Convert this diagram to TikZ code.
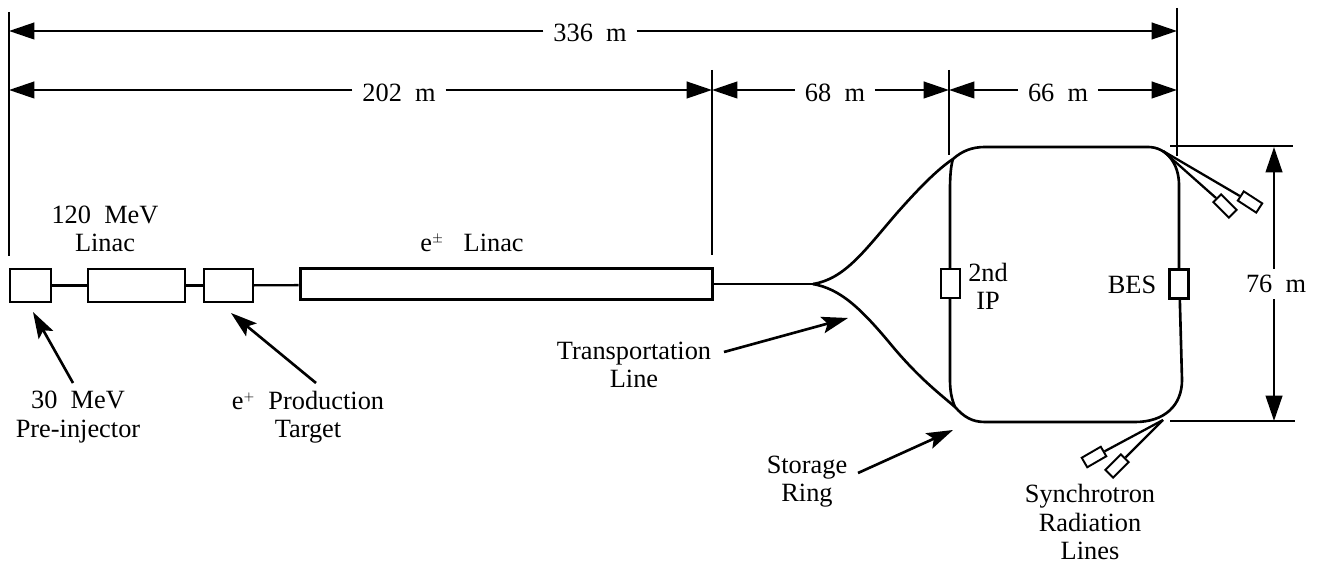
\documentclass[tikz,border=0pt]{standalone}
\usepackage{fontspec}
\setmainfont{Liberation Serif}
\usetikzlibrary{arrows.meta}
\begin{document}
\begin{tikzpicture}[
  x=0.02cm,y=-0.02cm,line width=1.3pt,
  label/.style={font=\fontsize{15}{16}\selectfont,align=center,inner sep=0pt},
  span/.style={font=\fontsize{15}{16}\selectfont,fill=white,inner xsep=5pt,inner ysep=1pt},
  halfdim/.style={-{Triangle[length=14.5pt,width=9.5pt]}},
  pointer/.style={-{Stealth[length=15pt,width=9.5pt,inset=3pt]},line width=1.5pt},
  linac/.style={draw,minimum height=0.66cm,inner sep=0pt,fill=white},
  ring/.style={line width=1.5pt},
  ipbox/.style={draw,fill=white,line width=1.5pt,minimum width=0.38cm,minimum height=0.58cm,inner sep=0pt},
  srbox/.style={draw,fill=white,line width=1.1pt,minimum width=0.44cm,minimum height=0.22cm,inner sep=0pt}
]
  \useasboundingbox (0,0) rectangle (1317,563);

  % Extension lines
  \draw (9,12) -- (9,256);
  \draw (712,70) -- (712,255);
  \draw (949,70) -- (949,155);
  \draw (1177,8) -- (1177,156);
  \draw (1170,146) -- (1293,146);
  \draw (1170,421) -- (1295,421);

  % Spans
  \coordinate (a0) at (9,31);
  \coordinate (a1) at (1177,31);
  \node[span] (total) at (590,33) {336\ \ m};
  \draw[halfdim] (total.west |- a0) -- (a0);
  \draw[halfdim] (total.east |- a1) -- (a1);

  \coordinate (b0) at (9,90);
  \coordinate (b1) at (712,90);
  \coordinate (b2) at (949,90);
  \coordinate (b3) at (1177,90);
  \node[span] (linacspan) at (399,93) {202\ \ m};
  \node[span] (linespan) at (835,93) {68\ \ m};
  \node[span] (ringspan) at (1058,93) {66\ \ m};
  \draw[halfdim] (linacspan.west |- b0) -- (b0);
  \draw[halfdim] (linacspan.east |- b1) -- (b1);
  \draw[halfdim] (linespan.west |- b1) -- (b1);
  \draw[halfdim] (linespan.east |- b2) -- (b2);
  \draw[halfdim] (ringspan.west |- b2) -- (b2);
  \draw[halfdim] (ringspan.east |- b3) -- (b3);

  \coordinate (c0) at (1274,147);
  \coordinate (c1) at (1274,421);
  \node[span,inner xsep=1pt,inner ysep=3pt] (height) at (1276,284) {76\ \ m};
  \draw[halfdim] (height.north -| c0) -- (c0);
  \draw[halfdim] (height.south -| c0) -- (c1);

  % Linac row
  \node[linac,minimum width=0.82cm] (inj) at (30.5,285.5) {};
  \node[linac,minimum width=1.94cm] (lin) at (136.5,285.5) {};
  \node[linac,minimum width=0.98cm] (tgt) at (228.5,285.5) {};
  \node[linac,line width=1.7pt,minimum width=8.26cm,minimum height=0.62cm] (main) at (506.5,284) {};
  \draw (inj) -- (lin);
  \draw (lin) -- (tgt);
  \draw (tgt) -- (main);

  % Storage ring
  \coordinate (fork) at (813,284);
  \draw (main.east) -- (fork);
  \draw[ring] (fork) .. controls (845,279) and (865,250) .. (897,213)
    .. controls (920,187) and (938,169) .. (953,159)
    .. controls (962,151) and (972,147) .. (985,147) -- (1148,147)
    .. controls (1166,147) and (1179,163) .. (1179,185) -- (1179,270);
  \draw[ring] (fork) .. controls (840,289) and (860,307) .. (893,347)
    .. controls (920,379) and (940,394) .. (955,407)
    .. controls (964,417) and (972,422) .. (985,422) -- (1135,422)
    .. controls (1165,422) and (1182,405) .. (1182,380) -- (1179,270);
  \draw[ring] (953,159) .. controls (951,165) and (950,175) .. (950,190) -- (950,380)
    .. controls (950,392) and (952,400) .. (955,407);
  \node[ipbox] (ip2) at (950.5,283.5) {};
  \node[ipbox] (bes) at (1179,284) {};

  % Synchrotron lines
  \node[srbox,rotate=-33] (sr1) at (1250,202) {};
  \node[srbox,rotate=-45] (sr2) at (1225,206) {};
  \node[srbox,rotate=30] (sr3) at (1094,457) {};
  \node[srbox,rotate=45] (sr4) at (1117,466) {};
  \coordinate (srtop) at (1163,151);
  \coordinate (srbot) at (1163,420);
  \draw (srtop) -- (sr1);
  \draw (srtop) -- (sr2);
  \draw (srbot) -- (sr3);
  \draw (srbot) -- (sr4);

  % Labels
  \node[label] (l120) at (105,229) {120\ \ MeV\\Linac};
  \node[label] (lepm) at (472,243) {e$^{\scriptscriptstyle\pm}$\ \ \ Linac};
  \node[label] (lpre) at (78,417) {30\ \ MeV\\Pre-injector};
  \node[label] (lprod) at (308,417) {e$^{\scriptscriptstyle+}$\ \ Production\\Target};
  \node[label] (ltrans) at (634,365) {Transportation\\Line};
  \node[label] (lring) at (807,482) {Storage\\Ring};
  \node[label] (lsync) at (1090,522) {Synchrotron\\Radiation\\Lines};
  \node[label] (l2nd) at (988,286) {2nd\\IP};
  \node[label] (lbes) at (1132,285) {BES};

  % Pointers
  \coordinate (p1a) at (73,383);  \coordinate (p1b) at (33,312);
  \coordinate (p2a) at (316,383); \coordinate (p2b) at (231,313);
  \coordinate (p3a) at (724,352); \coordinate (p3b) at (848,318);
  \coordinate (p4a) at (858,473); \coordinate (p4b) at (953,430);
  \foreach \from/\to in {p1a/p1b,p2a/p2b,p3a/p3b,p4a/p4b}
    \draw[pointer] (\from) -- (\to);
\end{tikzpicture}
\end{document}
